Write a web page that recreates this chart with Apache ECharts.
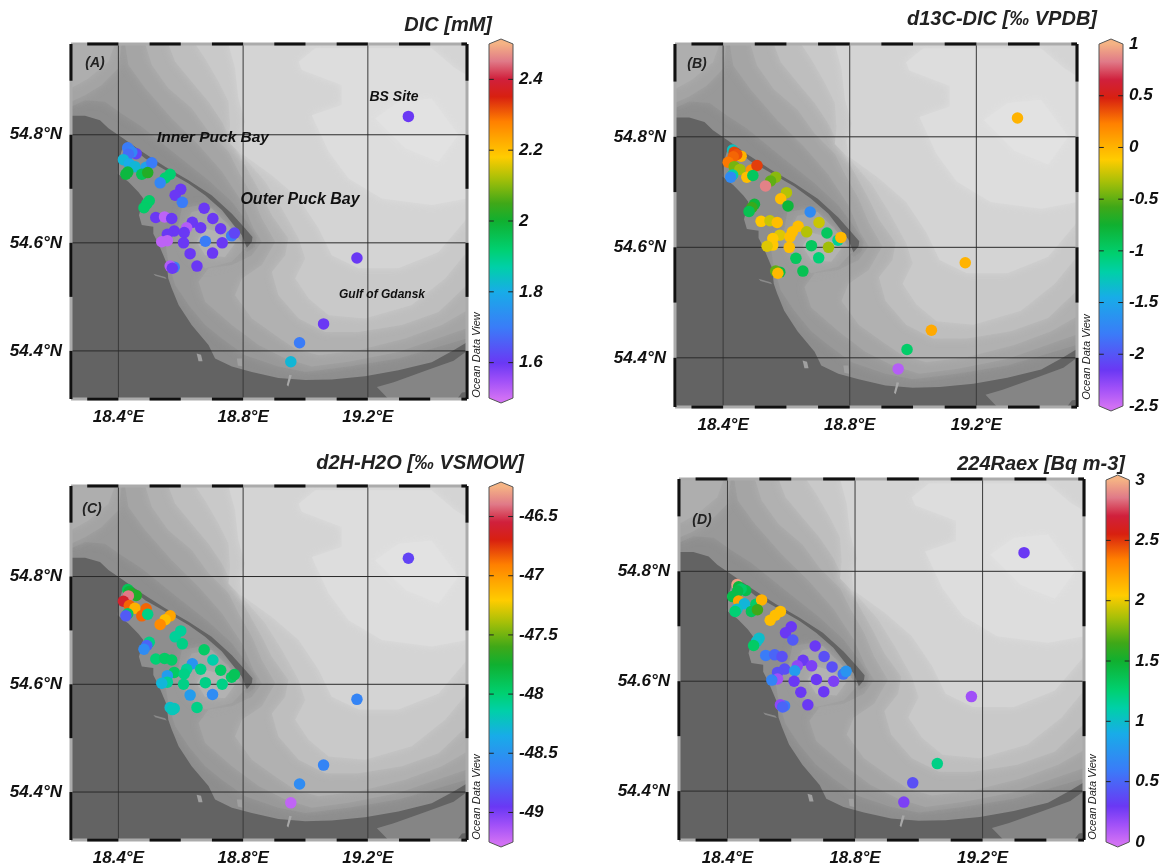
<!DOCTYPE html>
<html><head><meta charset="utf-8">
<style>html,body{margin:0;padding:0;background:#fff}#c{width:1162px;height:867px}</style>
<script src="https://cdn.jsdelivr.net/npm/echarts@6/dist/echarts.min.js"></script>
</head><body><div id="c"></div>
<script>
// ---------- station data (lon, lat, one value list per panel; null = no sample drawn) ----------
const stationLon=[18.430,18.457,18.435,18.443,18.432,18.416,18.435,18.453,18.489,18.507,18.430,18.424,18.475,18.494,18.566,18.550,18.534,18.600,18.582,18.605,18.499,18.491,18.482,18.520,18.548,18.571,18.675,18.703,18.728,18.637,18.619,18.664,18.579,18.557,18.611,18.557,18.539,18.609,18.679,18.733,18.763,18.772,18.630,18.702,18.652,18.579,18.566,18.573,19.330,19.165,19.058,18.981,18.953];
const stationLat=[54.776,54.765,54.772,54.768,54.764,54.754,54.746,54.741,54.740,54.748,54.731,54.727,54.727,54.730,54.727,54.720,54.711,54.699,54.688,54.675,54.678,54.672,54.665,54.647,54.648,54.645,54.664,54.645,54.626,54.638,54.628,54.628,54.622,54.616,54.619,54.604,54.602,54.600,54.603,54.600,54.613,54.618,54.580,54.581,54.557,54.555,54.557,54.553,54.834,54.572,54.450,54.415,54.380];
const dicValues=[1.70,1.62,1.70,1.72,1.68,1.82,1.80,1.82,1.78,1.70,1.98,1.98,1.95,2.02,1.92,1.92,1.72,1.60,1.60,1.70,1.93,1.93,1.93,1.60,1.52,1.60,1.60,1.60,1.60,1.60,1.53,1.60,1.60,1.60,1.60,1.52,1.52,1.60,1.70,1.60,1.70,1.62,1.60,1.60,1.60,1.70,1.53,1.60,1.60,1.60,1.60,1.70,1.82];
const d13cValues=[-1.3,0.0,0.38,0.35,0.3,0.25,-0.45,-0.35,0.15,0.4,-1.2,-1.7,-0.05,-0.95,-0.4,-0.5,0.85,-0.3,-0.05,-0.8,-0.8,-0.6,-0.9,-0.1,-0.25,-0.05,-1.7,-0.25,-0.95,-0.05,-0.05,-0.3,-0.2,-0.1,-0.05,-0.1,-0.2,-0.05,-0.95,-0.35,-1.15,-0.03,-0.95,-1.05,-0.9,-0.85,-0.5,-0.03,0.0,0.0,0.05,-1.0,-2.4];
const d2hValues=[-47.9,-47.7,-47.8,-47.7,-46.4,-46.6,-46.85,-47.1,-46.85,null,-47.95,-48.8,-46.85,-48.05,-47.05,-47.15,-46.95,-48.1,-48.1,-48.05,-48.05,-48.75,-48.55,-48.0,-47.95,-47.95,-47.95,-48.15,-47.95,-48.5,-48.1,-48.05,-47.95,-48.45,-48.05,-48.1,-48.3,-48.05,-48.05,-48.05,-47.95,-47.9,-48.45,-48.55,-48.05,-48.2,-48.25,-48.2,-48.9,-48.6,-48.6,-48.55,-49.2];
const raValues=[2.95,1.4,1.45,1.3,1.4,1.4,2.2,0.95,1.3,2.15,1.0,1.25,1.35,1.65,2.1,2.1,2.1,0.3,0.3,0.45,1.0,1.0,1.3,0.6,0.5,0.4,0.3,0.4,0.4,0.3,0.2,0.25,0.4,0.4,0.8,0.15,0.65,0.3,0.3,0.25,0.55,0.75,0.3,0.3,0.3,0.6,0.2,0.5,0.3,0.15,1.2,0.4,0.25];

// ---------- tick labels ----------
const lonTicks=[18.4,18.8,19.2];
const latTicks=[54.4,54.6,54.8];
const dicTicks=[1.6,1.8,2,2.2,2.4];
const d13cTicks=[-2.5,-2,-1.5,-1,-0.5,0,0.5,1];
const d2hTicks=[-49,-48.5,-48,-47.5,-47,-46.5];
const raTicks=[0,0.5,1,1.5,2,2.5,3];
const rulerLon=[[18.3,18.4],[18.5,18.6],[18.7,18.8],[18.9,19.0],[19.1,19.2],[19.3,19.4],[19.5,19.518]];
const rulerLat=[[54.311,54.4],[54.5,54.6],[54.7,54.8],[54.9,54.968]];

// ---------- geography, lon/lat ----------
const lonExtent=[18.248,19.518], latExtent=[54.311,54.968];
const seaBase=[[18.248,54.968],[18.248,54.311],[19.518,54.311],[19.518,54.968]];
const seaCoastal=[[18.248,54.968],[18.248,54.852],[18.293,54.864],[18.357,54.861],[18.411,54.839],[18.475,54.815],[18.582,54.765],[18.689,54.716],[18.764,54.676],[18.812,54.639],[18.844,54.611],[18.838,54.593],[18.812,54.583],[18.764,54.608],[18.753,54.636],[18.667,54.670],[18.603,54.664],[18.593,54.633],[18.550,54.602],[18.560,54.565],[18.582,54.522],[18.625,54.485],[18.678,54.448],[18.732,54.423],[18.806,54.392],[18.913,54.371],[18.999,54.361],[19.138,54.371],[19.298,54.386],[19.518,54.423],[19.518,54.968]];
const seaCornerA=[[18.248,54.968],[18.411,54.968],[18.400,54.923],[18.347,54.892],[18.293,54.873],[18.248,54.861]];
const seaCornerB=[[18.248,54.968],[18.389,54.968],[18.368,54.935],[18.304,54.904],[18.248,54.886]];
const seaBand1=[[18.421,54.968],[18.432,54.929],[18.486,54.886],[18.571,54.830],[18.657,54.781],[18.732,54.732],[18.796,54.676],[18.833,54.627],[18.860,54.602],[18.828,54.577],[18.764,54.559],[18.689,54.553],[18.657,54.528],[18.678,54.491],[18.764,54.448],[18.849,54.411],[18.935,54.386],[19.020,54.371],[19.138,54.380],[19.298,54.398],[19.518,54.442],[19.518,54.968]];
const bayPatch1=[[18.635,54.657],[18.699,54.664],[18.774,54.620],[18.806,54.590],[18.764,54.565],[18.678,54.553],[18.625,54.577],[18.598,54.614]];
const seaBand2=[[18.486,54.968],[18.507,54.929],[18.560,54.886],[18.635,54.849],[18.689,54.806],[18.753,54.769],[18.785,54.732],[18.828,54.688],[18.860,54.645],[18.903,54.602],[18.860,54.559],[18.796,54.534],[18.774,54.503],[18.828,54.460],[18.903,54.429],[18.967,54.404],[19.042,54.392],[19.170,54.401],[19.320,54.423],[19.437,54.448],[19.518,54.475],[19.518,54.968]];
const bayPatch2=[[18.678,54.627],[18.721,54.620],[18.774,54.599],[18.742,54.574],[18.678,54.577],[18.651,54.602]];
const seaBand3=[[18.560,54.968],[18.582,54.935],[18.635,54.898],[18.689,54.861],[18.732,54.824],[18.764,54.787],[18.806,54.744],[18.860,54.688],[18.892,54.651],[18.945,54.608],[18.935,54.577],[18.892,54.546],[18.913,54.503],[18.978,54.460],[19.063,54.435],[19.170,54.435],[19.309,54.448],[19.427,54.472],[19.518,54.522],[19.518,54.968]];
const seaBand4=[[18.646,54.968],[18.678,54.941],[18.721,54.898],[18.753,54.861],[18.758,54.818],[18.753,54.787],[18.806,54.756],[18.871,54.713],[18.924,54.664],[18.978,54.608],[18.999,54.571],[18.967,54.534],[19.010,54.497],[19.074,54.466],[19.191,54.460],[19.341,54.485],[19.448,54.534],[19.518,54.583],[19.518,54.968]];
const seaBand5=[[18.753,54.968],[18.774,54.923],[18.785,54.867],[18.806,54.824],[18.790,54.793],[18.796,54.765],[18.892,54.725],[18.978,54.682],[19.042,54.627],[19.084,54.577],[19.170,54.553],[19.298,54.553],[19.427,54.583],[19.518,54.645],[19.518,54.968]];
const seaBand6=[[18.978,54.935],[19.031,54.960],[19.405,54.960],[19.480,54.923],[19.518,54.910],[19.518,54.682],[19.405,54.670],[19.245,54.682],[19.138,54.719],[19.074,54.769],[19.020,54.836],[19.116,54.855],[19.116,54.892],[18.988,54.920]];
const seaBand7=[[19.223,54.830],[19.298,54.861],[19.405,54.867],[19.491,54.800],[19.427,54.750],[19.320,54.775]];
const land=[[18.248,54.835],[18.293,54.835],[18.341,54.827],[18.368,54.812],[18.416,54.793],[18.475,54.769],[18.550,54.741],[18.625,54.716],[18.699,54.688],[18.764,54.654],[18.806,54.627],[18.830,54.611],[18.828,54.602],[18.812,54.591],[18.804,54.602],[18.796,54.614],[18.774,54.630],[18.732,54.661],[18.678,54.688],[18.625,54.710],[18.550,54.735],[18.486,54.756],[18.424,54.785],[18.416,54.781],[18.400,54.750],[18.398,54.728],[18.432,54.713],[18.464,54.694],[18.480,54.682],[18.466,54.651],[18.475,54.633],[18.512,54.630],[18.512,54.617],[18.528,54.599],[18.544,54.577],[18.555,54.562],[18.560,54.534],[18.571,54.516],[18.593,54.485],[18.635,54.448],[18.689,54.411],[18.710,54.386],[18.764,54.371],[18.828,54.361],[18.913,54.350],[18.999,54.346],[19.084,54.347],[19.191,54.353],[19.298,54.364],[19.405,54.379],[19.475,54.401],[19.518,54.416],[19.518,54.311],[18.248,54.311]];
const lagoon=[[19.229,54.333],[19.283,54.342],[19.389,54.364],[19.475,54.382],[19.518,54.400],[19.518,54.324],[19.502,54.323],[19.486,54.311],[19.266,54.311]];
const islet=[[18.651,54.395],[18.665,54.393],[18.670,54.381],[18.657,54.381]];
const harbour=[[18.780,54.386],[18.796,54.386],[18.798,54.371],[18.783,54.373]];
const breakwater=[[18.948,54.356],[18.956,54.355],[18.945,54.334],[18.940,54.337]];
const jetty=[[18.512,54.543],[18.550,54.537],[18.555,54.533],[18.518,54.539]];
const mapLayers=[[seaBase,'#8e8e8e',0],[seaCoastal,'#999999',9],[seaCornerA,'#a4a4a4',9],[seaCornerB,'#aeaeae',9],[seaBand1,'#a5a5a5',9],[bayPatch1,'#a4a4a4',9],[seaBand2,'#b1b1b1',9],[bayPatch2,'#b2b2b2',9],[seaBand3,'#bebebe',9],[seaBand4,'#c9c9c9',9],[seaBand5,'#d4d4d4',9],[seaBand6,'#dddddd',9],[seaBand7,'#e2e2e2',9],[land,'#636363',0],[lagoon,'#858585',0],[islet,'#a0a0a0',0],[harbour,'#a0a0a0',0],[breakwater,'#a8a8a8',0],[jetty,'#8a8a8a',0]];

// ---------- colour scale ----------
const paletteAt=[0,0.05,0.10,0.20,0.30,0.37,0.42,0.50,0.55,0.62,0.68,0.73,0.78,0.85,0.90,0.95,1];
const paletteColor=['#d070f4','#a050f8','#6a38f4','#3a7cf8','#18ace8','#00d0a8','#00d070','#10b030','#40a818','#a8c008','#ffcc00','#ffa800','#ff8000','#d82010','#d0203c','#e07a88','#f5b384'];
function colorAt(t){
  t=Math.max(0,Math.min(1,t));
  for(let i=1;i<paletteAt.length;i++){
    if(t<=paletteAt[i]){
      const f=(t-paletteAt[i-1])/(paletteAt[i]-paletteAt[i-1]);
      return echarts.color.lerp(f,[paletteColor[i-1],paletteColor[i]]);
    }
  }
  return paletteColor[paletteColor.length-1];
}

// ---------- panels ----------
const font='"Liberation Sans", Arial, sans-serif';
const panels=[
 {title:'DIC [mM]',titleRight:670,titleTop:15,tag:'(A)',tagX:95,tagY:63,values:dicValues,min:1.5,max:2.5,ticks:dicTicks,
  grid:{left:71,top:44,width:396,height:355},bar:{left:489,top:39,width:24,height:364},odv:[477,355]},
 {title:'d13C-DIC [‰ VPDB]',titleRight:65,titleTop:9,tag:'(B)',tagX:697,tagY:64,values:d13cValues,min:-2.5,max:1,ticks:d13cTicks,
  grid:{left:675,top:44,width:402,height:363},bar:{left:1099,top:39,width:24,height:372},odv:[1087,357]},
 {title:'d2H-H2O [‰ VSMOW]',titleRight:638,titleTop:453,tag:'(C)',tagX:92,tagY:509,values:d2hValues,min:-49.25,max:-46.25,ticks:d2hTicks,
  grid:{left:71,top:486,width:396,height:357},bar:{left:489,top:482,width:24,height:365},odv:[477,797]},
 {title:'224Raex [Bq m-3]',titleRight:37,titleTop:454,tag:'(D)',tagX:702,tagY:520,values:raValues,min:0,max:3,ticks:raTicks,
  grid:{left:679,top:479,width:405,height:364},bar:{left:1106,top:475,width:24,height:372},odv:[1093,797]}
];
const tipShare=0.014;
const placeNames=[
 {text:'BS Site',x:394,y:97,size:14},
 {text:'Inner Puck Bay',x:213,y:138,size:15.5},
 {text:'Outer Puck Bay',x:300,y:200,size:16},
 {text:'Gulf of Gdansk',x:382,y:295,size:12}
];

const option={animation:false,backgroundColor:'#fff',title:[],grid:[],xAxis:[],yAxis:[],series:[],graphic:[]};
const labelStyle={fontFamily:font,fontWeight:'bold',fontStyle:'italic',fontSize:17,color:'#111'};

panels.forEach((p,idx)=>{
  const mapAxis=option.grid.length;
  option.grid.push(p.grid);
  option.xAxis.push({gridIndex:mapAxis,type:'value',min:lonExtent[0],max:lonExtent[1],
    axisLine:{show:false},axisTick:{show:false},splitLine:{show:false},
    axisLabel:{...labelStyle,margin:10,customValues:lonTicks,formatter:v=>(+v).toFixed(1)+'°E'}});
  option.yAxis.push({gridIndex:mapAxis,type:'value',min:latExtent[0],max:latExtent[1],
    axisLine:{show:false},axisTick:{show:false},splitLine:{show:false},
    axisLabel:{...labelStyle,margin:9,customValues:latTicks,formatter:v=>(+v).toFixed(1)+'°N'}});

  // map layers
  option.series.push({type:'custom',xAxisIndex:mapAxis,yAxisIndex:mapAxis,clip:true,silent:true,z:1,
    data:mapLayers.map((_,i)=>[i]),
    renderItem:(params,api)=>{
      const layer=mapLayers[api.value(0)];
      return {type:'polygon',shape:{points:layer[0].map(c=>api.coord(c))},
        style:{fill:layer[1],shadowBlur:layer[2],shadowColor:layer[1]}};
    }});
  // graticule and frame ruler
  option.series.push({type:'custom',xAxisIndex:mapAxis,yAxisIndex:mapAxis,clip:false,silent:true,z:2,
    data:[[0]],
    renderItem:(params,api)=>{
      const kids=[];
      const seg=(a,b,stroke,w)=>{const s=api.coord(a),e=api.coord(b);
        kids.push({type:'line',shape:{x1:s[0],y1:s[1],x2:e[0],y2:e[1]},style:{stroke,lineWidth:w}});};
      lonTicks.forEach(x=>seg([x,latExtent[0]],[x,latExtent[1]],'#3a3a3a',1));
      latTicks.forEach(y=>seg([lonExtent[0],y],[lonExtent[1],y],'#2a2a2a',1));
      [latExtent[0],latExtent[1]].forEach(y=>seg([lonExtent[0],y],[lonExtent[1],y],'#ababab',3));
      [lonExtent[0],lonExtent[1]].forEach(x=>seg([x,latExtent[0]],[x,latExtent[1]],'#ababab',3));
      [latExtent[0],latExtent[1]].forEach(y=>rulerLon.forEach(r=>seg([r[0],y],[r[1],y],'#111',3)));
      [lonExtent[0],lonExtent[1]].forEach(x=>rulerLat.forEach(r=>seg([x,r[0]],[x,r[1]],'#111',3)));
      return {type:'group',children:kids};
    }});
  // stations
  const pts=[];
  p.values.forEach((v,i)=>{ if(v!==null) pts.push([stationLon[i],stationLat[i],v]); });
  option.series.push({type:'scatter',xAxisIndex:mapAxis,yAxisIndex:mapAxis,silent:true,z:3,symbol:'circle',symbolSize:11.5,
    data:pts,itemStyle:{opacity:1,color:q=>colorAt((q.value[2]-p.min)/(p.max-p.min))}});

  // colour bar
  const barAxis=option.grid.length;
  const range=p.max-p.min, tip=range*tipShare;
  option.grid.push(p.bar);
  option.xAxis.push({gridIndex:barAxis,type:'value',min:0,max:1,show:false});
  option.yAxis.push({gridIndex:barAxis,type:'value',position:'right',min:p.min-tip,max:p.max+tip,
    axisLine:{show:false},axisTick:{show:false},splitLine:{show:false},
    axisLabel:{...labelStyle,margin:6,align:'left',customValues:p.ticks,formatter:v=>String(+(+v).toFixed(2))}});
  option.series.push({type:'custom',xAxisIndex:barAxis,yAxisIndex:barAxis,clip:false,silent:true,z:2,
    data:[[0]],
    renderItem:(params,api)=>{
      const poly=[[0.5,p.max+tip],[1,p.max],[1,p.min],[0.5,p.min-tip],[0,p.min],[0,p.max]].map(c=>api.coord(c));
      const stops=paletteAt.map((t,i)=>({offset:1-(tip+t*range)/(range+2*tip),color:paletteColor[i]})).reverse();
      const kids=[{type:'polygon',shape:{points:poly},style:{stroke:'#555',lineWidth:1,
        fill:new echarts.graphic.LinearGradient(0,0,0,1,stops)}}];
      p.ticks.forEach(v=>{
        if(v<=p.min||v>=p.max) return;
        [[0,0.2],[0.8,1]].forEach(e=>{
          const a=api.coord([e[0],v]),b=api.coord([e[1],v]);
          kids.push({type:'line',shape:{x1:a[0],y1:a[1],x2:b[0],y2:b[1]},style:{stroke:'#222',lineWidth:1}});
        });
      });
      return {type:'group',children:kids};
    }});

  option.title.push({text:p.title,right:p.titleRight,top:p.titleTop,padding:0,
    textStyle:{fontFamily:font,fontWeight:'bold',fontStyle:'italic',fontSize:20,color:'#222'}});
  option.graphic.push({type:'text',z:10,silent:true,x:p.tagX,y:p.tagY,
    style:{text:p.tag,align:'center',verticalAlign:'middle',font:'italic bold 14px '+font,fill:'#222'}});
  option.graphic.push({type:'text',z:10,silent:true,x:p.odv[0],y:p.odv[1],rotation:Math.PI/2,
    style:{text:'Ocean Data View',align:'center',verticalAlign:'middle',font:'italic 11px '+font,fill:'#222'}});
});
placeNames.forEach(n=>option.graphic.push({type:'text',z:10,silent:true,x:n.x,y:n.y,
  style:{text:n.text,align:'center',verticalAlign:'middle',font:'italic bold '+n.size+'px '+font,fill:'#111'}}));

echarts.init(document.getElementById('c'),null,{renderer:'canvas'}).setOption(option);
</script></body></html>
